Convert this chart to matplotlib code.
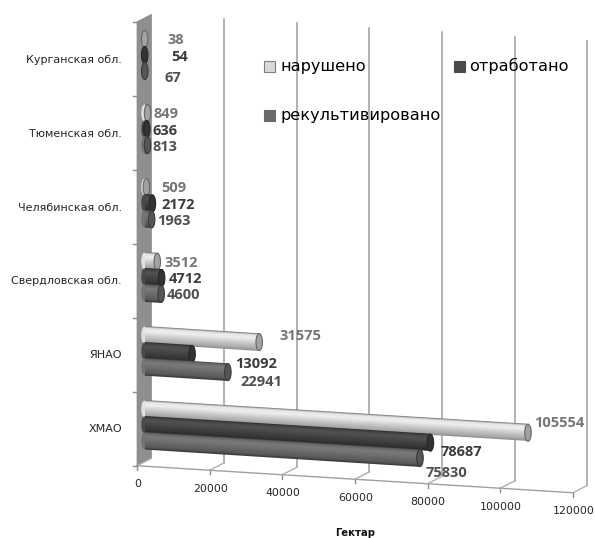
import numpy as np
import matplotlib
matplotlib.use("Agg")
import matplotlib.pyplot as plt
from matplotlib.colors import LinearSegmentedColormap
from matplotlib.patches import Ellipse, Polygon, Rectangle
from matplotlib.transforms import Affine2D

categories = ["ХМАО", "ЯНАО", "Свердловская обл.", "Челябинская обл.", "Тюменская обл.", "Курганская обл."]
narusheno = [105554, 31575, 3512, 509, 849, 38]
otrabotano = [78687, 13092, 4712, 2172, 636, 54]
rekult = [75830, 22941, 4600, 1963, 813, 67]
series_names = ["нарушено", "отработано", "рекультивировано"]
x_ticks = [0, 20000, 40000, 60000, 80000, 100000, 120000]
x_title = "Гектар"

# label offsets from the bar ends, pixels (right, down)
off_n = [(31, -10), (41, -6), (24, 1), (27, 1), (18, 1), (31, 1)]
off_o = [(31, 9), (63.5, 10), (23.5, 1), (25.5, 1.5), (18, 2), (35, 2)]
off_r = [(27, 15), (33.7, 10), (22, 1), (22, 1.5), (17.5, 2), (28, 7)]

W, H = 595, 538
fig = plt.figure(figsize=(W / 100, H / 100), dpi=100, facecolor="white")
ax = fig.add_axes([0, 0, 1, 1])
ax.set_axis_off()

# (value, category) -> pixel, at the middle of the chart depth
mid = Affine2D.from_values(0.003633, 0.000225, 0, -74, 144.5, 425) + ax.transData


def px(tr_vals, v, c):
    a, b, d, e, f = tr_vals
    return a * v + e, b * v + d * c + f


MID = (0.003633, 0.000225, -74, 144.5, 425)
FRONT = (0.003633, 0.000225, -74, 137, 428.75)
BACK = (0.003633, 0.000225, -74, 151.5, 421.25)

lo, hi = -0.5, 5.5
grid_c = "#9c9c9c"

# wall
wall = Polygon([px(FRONT, 0, lo), px(FRONT, 0, hi), px(BACK, 0, hi), px(BACK, 0, lo)],
               closed=True, facecolor="#8f8f8f", edgecolor="#8a8a8a", lw=0.5, zorder=1)
ax.add_patch(wall)

# grid lines and floor
for v in x_ticks[1:]:
    x0, y0 = px(BACK, v, lo)
    x1, y1 = px(BACK, v, hi)
    ax.plot([x0, x1], [y0, y1], color=grid_c, lw=1.1, zorder=1)
for v in x_ticks:
    xf, yf = px(FRONT, v, lo)
    xb, yb = px(BACK, v, lo)
    ax.plot([xf, xb], [yf, yb], color="#b0b0b0", lw=1.0, zorder=1)
    ax.plot([xf, xf], [yf, yf + 4], color="#8c8c8c", lw=1.0, zorder=1)
    ax.text(xf + 0.5, yf + 18.5, f"{v}", ha="center", va="center", fontsize=7.9,
            color="#262626", family="DejaVu Sans")
xa, ya = px(FRONT, 0, lo)
xe, ye = px(FRONT, x_ticks[-1], lo)
ax.plot([xa, xe], [ya, ye], color="#a0a0a0", lw=1.0, zorder=1)

# category ticks and labels
for k in range(len(categories) + 1):
    xf, yf = px(FRONT, 0, lo + k)
    ax.plot([xf - 4, xf], [yf, yf], color="#8c8c8c", lw=1.0, zorder=1)
for k, name in enumerate(categories):
    ax.text(122, 429 - 73.8 * k, name, ha="right", va="center", fontsize=8.0,
            color="#262626", family="DejaVu Sans")

cm_light = LinearSegmentedColormap.from_list(
    "l", [(0, "#8c8c8c"), (0.12, "#a8a8a8"), (0.4, "#c8c8c8"), (0.7, "#eeeeee"), (0.9, "#e4e4e4"), (1, "#6f6f6f")])
cm_dark = LinearSegmentedColormap.from_list(
    "d", [(0, "#262626"), (0.2, "#363636"), (0.5, "#454545"), (0.75, "#525252"), (0.92, "#444444"), (1, "#2a2a2a")])
cm_grey = LinearSegmentedColormap.from_list(
    "g", [(0, "#363636"), (0.15, "#595959"), (0.5, "#6e6e6e"), (0.75, "#7a7a7a"), (0.92, "#686868"), (1, "#484848")])
caps = ["#a2a2a2", "#333333", "#565656"]
edges = ["#666666", "#262626", "#3a3a3a"]
grad = np.linspace(0, 1, 64).reshape(-1, 1)

half = 8.6 / 74
sep = 16 / 74
all_series = [
    (narusheno, sep, cm_light, caps[0], edges[0], off_n, "#767676"),
    (otrabotano, 0, cm_dark, caps[1], edges[1], off_o, "#3c3c3c"),
    (rekult, -sep, cm_grey, caps[2], edges[2], off_r, "#505050"),
]
for vals, shift, cmap, cap, edge, offs, lab_c in all_series:
    for i, v in enumerate(vals):
        c = i + shift
        cx0, cy0 = px(MID, 0, c)
        cx1, cy1 = px(MID, v, c)
        ax.add_patch(Ellipse((cx0, cy0), 6.5, 17, facecolor=cmap(0.6), edgecolor="none", zorder=3))
        ax.imshow(grad, extent=(0, v, c - half, c + half), origin="lower", aspect="auto",
                  cmap=cmap, vmin=0, vmax=1, interpolation="bilinear", transform=mid, zorder=3)
        ax.add_patch(Ellipse((cx1, cy1), 6.5, 17, facecolor=cap, edgecolor=edge, lw=0.8, zorder=3))
        dx, dy = offs[i]
        ax.annotate(f"{v}", xy=(v, c), xycoords=mid, xytext=(dx, -dy), textcoords="offset pixels",
                    ha="center", va="center", fontsize=10.5, fontweight="bold",
                    color=lab_c, family="Open Sans", zorder=6)

# legend
leg = [(269.5, 66.5, "#d9d9d9", "#7f7f7f"), (459, 66, "#4a4a4a", "#4a4a4a"), (269.5, 115.5, "#6a6a6a", "#6a6a6a")]
leg_x = [281, 469, 281]
for (sx, sy, fc, ec), tx, name in zip(leg, leg_x, series_names):
    ax.add_patch(Rectangle((sx - 5.5, sy - 5.5), 11, 11, facecolor=fc, edgecolor=ec, lw=0.8, zorder=5))
    ax.text(tx, sy, name, ha="left", va="center", fontsize=11.6, color="#000000",
            family="DejaVu Sans", zorder=5)

ax.text(355, 533, x_title, ha="center", va="center", fontsize=7.2, fontweight="bold",
        color="#111111", family="DejaVu Sans")

ax.set_xlim(0, W)
ax.set_ylim(H, 0)
fig.savefig("out.png", dpi=100)
